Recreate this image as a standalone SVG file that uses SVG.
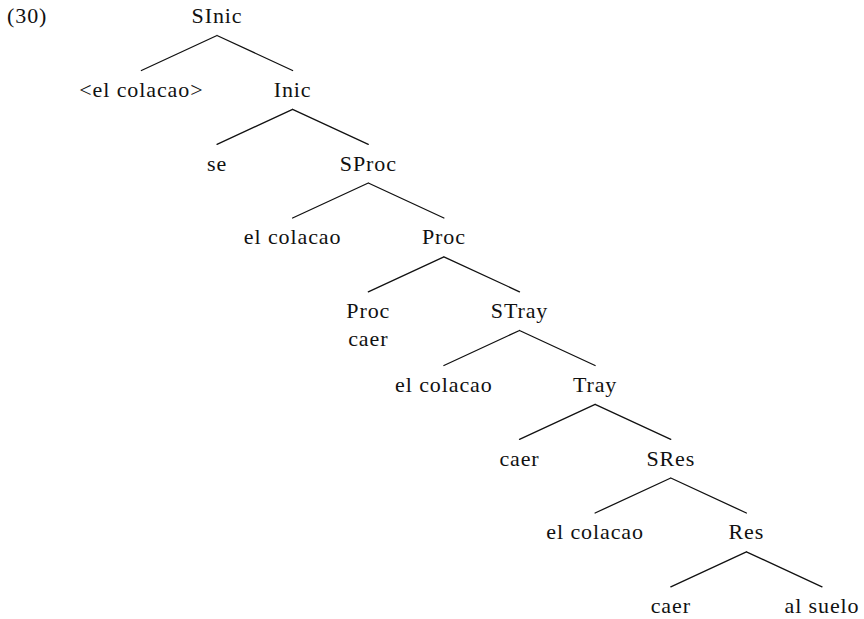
<svg xmlns="http://www.w3.org/2000/svg" width="864" height="619" viewBox="0 0 864 619">
<style>
text{font-family:"Liberation Serif","Times New Roman",serif;font-size:22px;fill:#111;text-anchor:middle;letter-spacing:0.9px}
.e{stroke:#111;stroke-width:1.3;fill:none;stroke-linecap:round}
</style>
<rect width="864" height="619" fill="#fff"/>
<text x="7" y="23" style="text-anchor:start">(30)</text>
<g id="edges">
<path class="e" d="M217,35.5L141.4,70.5M217,35.5L292.6,70.5"/>
<path class="e" d="M292.6,109.3L217,144.3M292.6,109.3L368.3,144.3"/>
<path class="e" d="M368.3,183L292.6,218M368.3,183L443.9,218"/>
<path class="e" d="M443.9,256.8L368.3,291.8M443.9,256.8L519.5,291.8"/>
<path class="e" d="M519.5,330.5L443.9,365.5M519.5,330.5L595.1,365.5"/>
<path class="e" d="M595.1,404.3L519.5,439.3M595.1,404.3L670.8,439.3"/>
<path class="e" d="M670.8,478L595.1,513M670.8,478L746.4,513"/>
<path class="e" d="M746.4,551.8L670.8,586.8M746.4,551.8L822,586.8"/>
</g>
<g id="SInic"><text x="217" y="23">SInic</text></g>
<g id="el-colacao-0"><text x="141.4" y="96.8">&lt;el colacao&gt;</text></g>
<g id="Inic"><text x="292.6" y="96.8">Inic</text></g>
<g id="se"><text x="217" y="170.5">se</text></g>
<g id="SProc"><text x="368.3" y="170.5">SProc</text></g>
<g id="el-colacao-1"><text x="292.6" y="244.3">el colacao</text></g>
<g id="Proc"><text x="443.9" y="244.3">Proc</text></g>
<g id="Proc-caer"><text x="368.3" y="318">Proc</text><text x="368.3" y="346">caer</text></g>
<g id="STray"><text x="519.5" y="318">STray</text></g>
<g id="el-colacao-2"><text x="443.9" y="391.8">el colacao</text></g>
<g id="Tray"><text x="595.1" y="391.8">Tray</text></g>
<g id="caer-1"><text x="519.5" y="465.5">caer</text></g>
<g id="SRes"><text x="670.8" y="465.5">SRes</text></g>
<g id="el-colacao-3"><text x="595.1" y="539.3">el colacao</text></g>
<g id="Res"><text x="746.4" y="539.3">Res</text></g>
<g id="caer-2"><text x="670.8" y="613">caer</text></g>
<g id="al-suelo"><text x="822" y="613">al suelo</text></g>
</svg>
